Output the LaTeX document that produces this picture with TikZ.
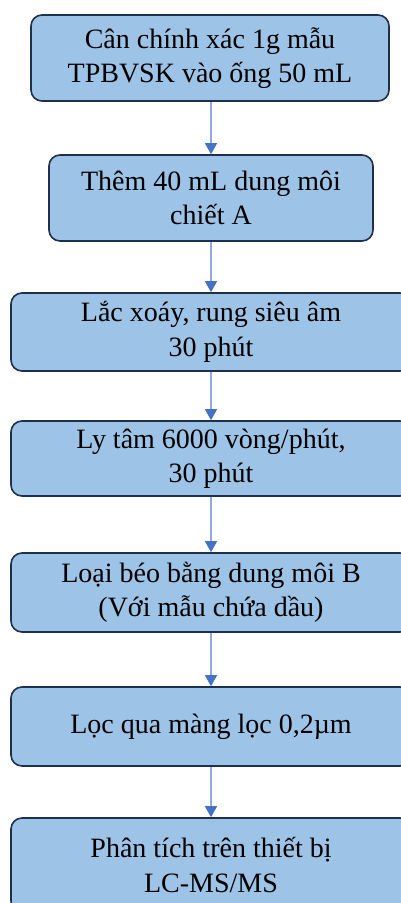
\documentclass[tikz,border=0pt]{standalone}
\usepackage{fontspec}
\setmainfont{Liberation Serif}
\usetikzlibrary{arrows.meta}
\definecolor{boxfill}{HTML}{9DC3E6}
\definecolor{boxline}{HTML}{1F2F50}
\definecolor{arrline}{HTML}{8FAADC}
\definecolor{arrhead}{HTML}{4472C4}
\tikzset{
  stepbox/.style={draw=boxline, line width=1.6pt, fill=boxfill, rounded corners=11pt,
    align=center, inner sep=0pt, font=\fontsize{28}{34.5}\selectfont, text=black},
  flow/.style={draw=arrline, line width=1.4pt,
    -{Triangle[width=12pt,length=11pt,color=arrhead,fill=arrhead]}}
}
\begin{document}
\begin{tikzpicture}[x=1pt,y=-1pt]
\useasboundingbox (0,0) rectangle (401,903);
\clip (0,0) rectangle (401,903);
\node[stepbox, minimum width=358pt, minimum height=86pt] (b1) at (210,58) {Cân chính xác 1g mẫu\\TPBVSK vào ống 50 mL};
\node[stepbox, minimum width=324pt, minimum height=86pt] (b2) at (211,198) {Thêm 40 mL dung môi\\chiết A};
\node[stepbox, minimum width=400pt, minimum height=78pt] (b3) at (211,332) {Lắc xoáy, rung siêu âm\\30 phút};
\node[stepbox, minimum width=400pt, minimum height=75pt] (b4) at (211,458.5) {Ly tâm 6000 vòng/phút,\\30 phút};
\node[stepbox, minimum width=400pt, minimum height=79pt] (b5) at (211,592.5) {Loại béo bằng dung môi B\\(Với mẫu chứa dầu)};
\node[stepbox, minimum width=400pt, minimum height=79pt] (b6) at (211,726.5) {Lọc qua màng lọc 0,2µm};
\node[stepbox, minimum width=400pt, minimum height=94pt] (b7) at (211,865) {Phân tích trên thiết bị\\LC-MS/MS};
\draw[flow] (b1.south -| b2.north) -- (b2.north);
\draw[flow] (b2.south) -- (b3.north);
\draw[flow] (b3.south) -- (b4.north);
\draw[flow] (b4.south) -- (b5.north);
\draw[flow] (b5.south) -- (b6.north);
\draw[flow] (b6.south) -- (b7.north);
\end{tikzpicture}
\end{document}
